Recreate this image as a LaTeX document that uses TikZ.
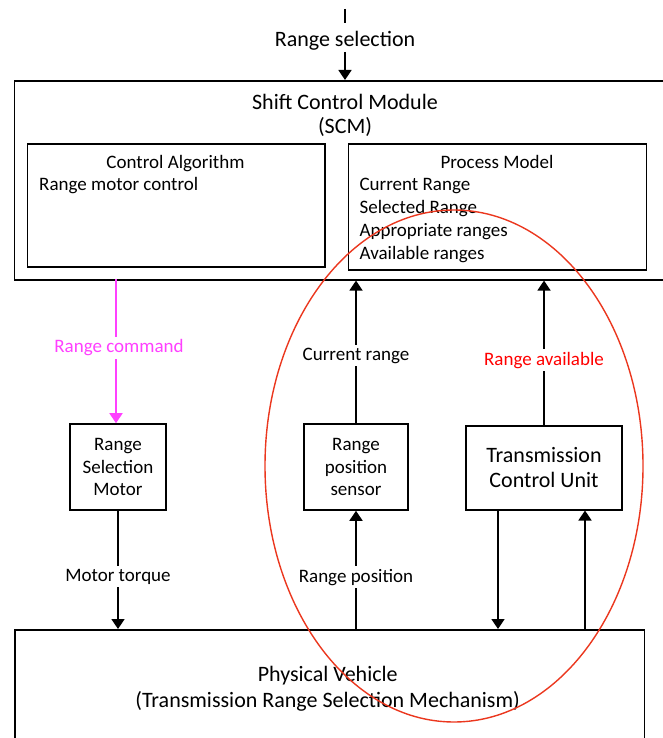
\documentclass[tikz,border=0pt]{standalone}
\usepackage{fontspec}
\setmainfont{Carlito}
\usetikzlibrary{arrows.meta}
\definecolor{mag}{RGB}{255,64,255}
\definecolor{ellred}{RGB}{235,55,30}
\definecolor{labred}{RGB}{255,0,0}
\begin{document}
\begin{tikzpicture}[x=1pt,y=-1pt,
  box/.style={draw, line width=1.6pt, inner sep=0pt},
  big/.style={font=\fontsize{22}{25.6}\selectfont},
  small/.style={font=\fontsize{19}{22.5}\selectfont},
  arr/.style={line width=1.8pt, -{Triangle[length=10pt,width=13pt]}},
  lab/.style={fill=white, inner sep=3pt, small},
]
\useasboundingbox (0,0) rectangle (663,738);
\clip (0,0) rectangle (663,738);

% top input
\coordinate (tk1) at (345,9);
\coordinate (tk2) at (345,23);
\draw[line width=1.8pt] (tk1) -- (tk2);
\node[big, anchor=base] (rsel) at (345,46.5) {Range selection};
\coordinate (rsarr) at (345,52);

% Shift Control Module
\node[box, anchor=north west, minimum width=680pt, minimum height=199pt] (scm) at (13.5,80) {};
\node[big, anchor=base] (scmt1) at (345,109.3) {Shift Control Module};
\node[big, anchor=base] (scmt2) at (345,133.3) {(SCM)};

\node[box, anchor=north west, minimum width=297.4pt, minimum height=123pt] (ca) at (26.6,143) {};
\node[small, anchor=base] (cat) at (175.5,168.3) {Control Algorithm};
\node[small, anchor=base west, inner sep=0pt] (ca1) at (39,190) {Range motor control};

\node[box, anchor=north west, minimum width=298pt, minimum height=126pt] (pm) at (347.6,143) {};
\node[small, anchor=base] (pmt) at (497,168.3) {Process Model};
\node[small, anchor=base west, inner sep=0pt] (pm1) at (359.4,190) {Current Range};
\node[small, anchor=base west, inner sep=0pt] (pm2) at (359.4,213) {Selected Range};
\node[small, anchor=base west, inner sep=0pt] (pm3) at (359.4,236.5) {Appropriate ranges};
\node[small, anchor=base west, inner sep=0pt] (pm4) at (359.4,259) {Available ranges};

% middle boxes
\node[box, small, align=center, minimum width=96pt, minimum height=86pt] (rsm) at (118,467) {Range\\Selection\\Motor};
\node[box, small, align=center, minimum width=104pt, minimum height=86pt] (rps) at (356,467) {Range\\position\\sensor};
\node[box, big, align=center, minimum width=156pt, minimum height=84pt] (tcu) at (544,467.7) {Transmission\\Control Unit};

% physical vehicle
\node[box, anchor=north west, minimum width=629.6pt, minimum height=150pt] (pv) at (14,629) {};
\node[big, anchor=base] (pvt1) at (327.7,681.7) {Physical Vehicle};
\node[big, anchor=base] (pvt2) at (327.7,707.3) {(Transmission Range Selection Mechanism)};

% connectors
\draw[arr] (rsarr) -- (rsarr |- scm.north);

\coordinate (rc) at (116,279);
\draw[arr, draw=mag, fill=mag] (rc) -- (rc |- rsm.north);
\node[lab, text=mag, anchor=base] (rcl) at (119,352.7) {Range command};

\draw[arr] (rps.north) -- (rps.north |- scm.south);
\node[lab, anchor=base] (crl) at (356,360) {Current range};

\draw[arr] (tcu.north) -- (tcu.north |- scm.south);
\node[lab, text=labred, anchor=base] (ral) at (544,365) {Range available};

\draw[arr] (rsm.south) -- (rsm.south |- pv.north);
\node[lab, anchor=base] (mtl) at (118,581) {Motor torque};

\draw[arr] (rps.south |- pv.north) -- (rps.south);
\node[lab, anchor=base] (rpl) at (356,582) {Range position};

\coordinate (td) at (498,510);
\coordinate (tu) at (585,510);
\draw[arr] (td |- tcu.south) -- (td |- pv.north);
\draw[arr] (tu |- pv.north) -- (tu |- tcu.south);

% highlight ellipse
\draw[ellred, line width=1.4pt] (454,466) ellipse [x radius=189, y radius=256];
\end{tikzpicture}
\end{document}
